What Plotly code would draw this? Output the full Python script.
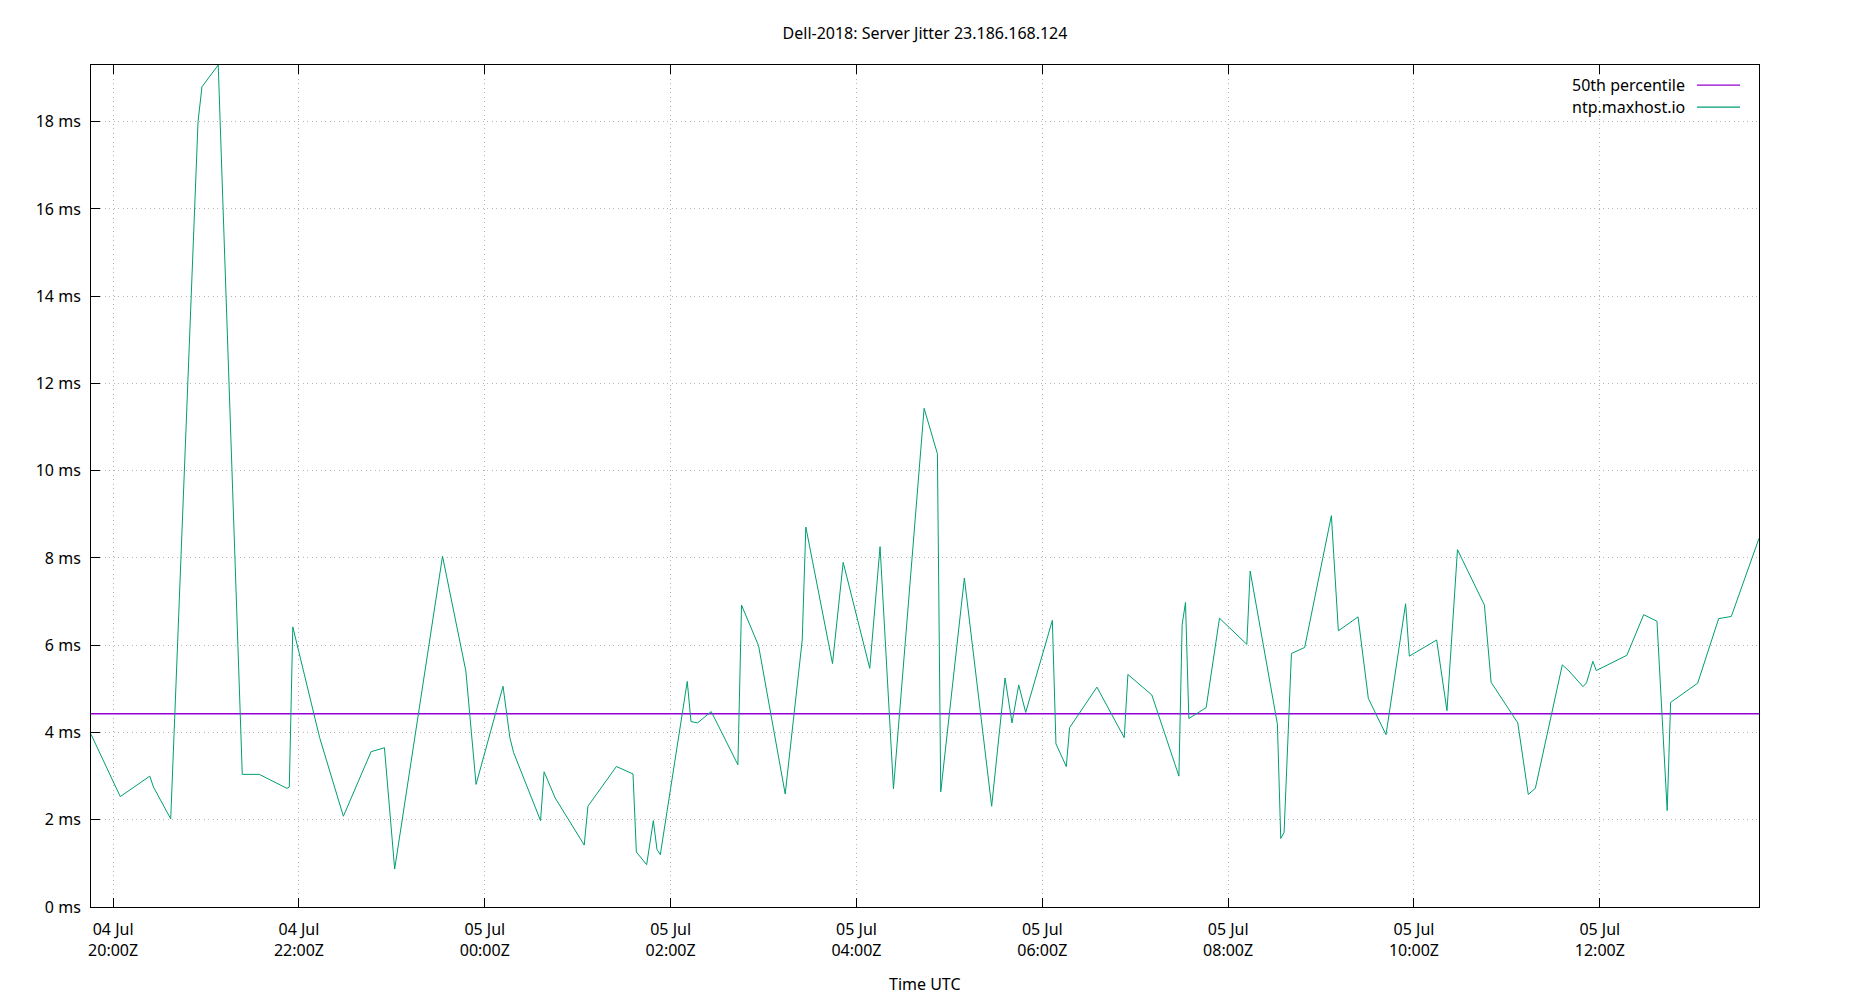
import plotly.graph_objects as go

# jitter samples for ntp.maxhost.io (UTC)
times = [
    "2018-07-04 19:45:43", "2018-07-04 20:00:30", "2018-07-04 20:04:37", "2018-07-04 20:23:42",
    "2018-07-04 20:26:02", "2018-07-04 20:37:12", "2018-07-04 20:54:50", "2018-07-04 20:57:22",
    "2018-07-04 21:07:52", "2018-07-04 21:23:24", "2018-07-04 21:34:23", "2018-07-04 21:52:12",
    "2018-07-04 21:53:46", "2018-07-04 21:56:02", "2018-07-04 22:13:23", "2018-07-04 22:28:41",
    "2018-07-04 22:46:34", "2018-07-04 22:55:12", "2018-07-04 23:01:48", "2018-07-04 23:32:42",
    "2018-07-04 23:47:46", "2018-07-04 23:54:22", "2018-07-05 00:11:46", "2018-07-05 00:16:12",
    "2018-07-05 00:18:36", "2018-07-05 00:36:00", "2018-07-05 00:38:17", "2018-07-05 00:45:25",
    "2018-07-05 01:04:12", "2018-07-05 01:06:36", "2018-07-05 01:24:58", "2018-07-05 01:35:42",
    "2018-07-05 01:37:52", "2018-07-05 01:44:31", "2018-07-05 01:48:50", "2018-07-05 01:51:11",
    "2018-07-05 01:53:20", "2018-07-05 02:10:44", "2018-07-05 02:13:08", "2018-07-05 02:17:24",
    "2018-07-05 02:26:13", "2018-07-05 02:43:26", "2018-07-05 02:45:47", "2018-07-05 02:56:46",
    "2018-07-05 03:13:59", "2018-07-05 03:24:58", "2018-07-05 03:27:18", "2018-07-05 03:44:31",
    "2018-07-05 03:51:25", "2018-07-05 04:08:35", "2018-07-05 04:15:14", "2018-07-05 04:23:53",
    "2018-07-05 04:43:41", "2018-07-05 04:52:16", "2018-07-05 04:54:25", "2018-07-05 05:09:40",
    "2018-07-05 05:27:18", "2018-07-05 05:35:56", "2018-07-05 05:40:26", "2018-07-05 05:44:46",
    "2018-07-05 05:49:16", "2018-07-05 06:06:29", "2018-07-05 06:08:49", "2018-07-05 06:15:29",
    "2018-07-05 06:17:38", "2018-07-05 06:35:17", "2018-07-05 06:52:55", "2018-07-05 06:55:16",
    "2018-07-05 07:10:44", "2018-07-05 07:28:12", "2018-07-05 07:30:18", "2018-07-05 07:32:28",
    "2018-07-05 07:34:37", "2018-07-05 07:45:47", "2018-07-05 07:54:25", "2018-07-05 08:12:04",
    "2018-07-05 08:14:13", "2018-07-05 08:31:48", "2018-07-05 08:33:58", "2018-07-05 08:36:07",
    "2018-07-05 08:40:52", "2018-07-05 08:49:26", "2018-07-05 09:06:40", "2018-07-05 09:11:10",
    "2018-07-05 09:23:53", "2018-07-05 09:30:32", "2018-07-05 09:41:56", "2018-07-05 09:54:36",
    "2018-07-05 09:57:00", "2018-07-05 10:14:38", "2018-07-05 10:21:18", "2018-07-05 10:28:05",
    "2018-07-05 10:45:29", "2018-07-05 10:49:48", "2018-07-05 11:07:01", "2018-07-05 11:13:48",
    "2018-07-05 11:18:22", "2018-07-05 11:35:46", "2018-07-05 11:40:05", "2018-07-05 11:49:08",
    "2018-07-05 11:51:25", "2018-07-05 11:55:30", "2018-07-05 11:57:43", "2018-07-05 12:17:28",
    "2018-07-05 12:28:19", "2018-07-05 12:36:54", "2018-07-05 12:43:30", "2018-07-05 12:45:43",
    "2018-07-05 13:03:11", "2018-07-05 13:16:44", "2018-07-05 13:24:54", "2018-07-05 13:42:47",
]
jitter_ms = [
    3.96, 2.85, 2.53, 3.00, 2.75, 2.02, 18.0, 18.8,
    19.3, 3.04, 3.04, 2.72, 2.75, 6.42, 3.88, 2.08,
    3.56, 3.65, 0.87, 8.04, 5.41, 2.81, 5.06, 3.88,
    3.54, 1.98, 3.10, 2.50, 1.42, 2.31, 3.22, 3.05,
    1.26, 0.97, 1.98, 1.32, 1.20, 5.17, 4.25, 4.22,
    4.48, 3.26, 6.92, 5.99, 2.59, 6.12, 8.71, 5.58,
    7.90, 5.47, 8.26, 2.71, 11.43, 10.39, 2.64, 7.54,
    2.31, 5.25, 4.22, 5.09, 4.46, 6.57, 3.74, 3.22,
    4.11, 5.04, 3.88, 5.33, 4.86, 3.00, 6.47, 6.98,
    4.32, 4.57, 6.62, 6.02, 7.70, 4.19, 1.57, 1.71,
    5.81, 5.95, 8.97, 6.33, 6.65, 4.78, 3.95, 6.95,
    5.75, 6.12, 4.50, 8.19, 6.92, 5.15, 4.22, 2.58,
    2.72, 5.55, 5.41, 5.05, 5.14, 5.63, 5.42, 5.77,
    6.70, 6.55, 2.21, 4.69, 5.13, 6.61, 6.66, 8.45,
]
p50_ms = 4.43

tick_times = [
    "2018-07-04 20:00", "2018-07-04 22:00", "2018-07-05 00:00", "2018-07-05 02:00",
    "2018-07-05 04:00", "2018-07-05 06:00", "2018-07-05 08:00", "2018-07-05 10:00",
    "2018-07-05 12:00",
]
tick_labels = [
    "04 Jul<br>20:00Z", "04 Jul<br>22:00Z", "05 Jul<br>00:00Z", "05 Jul<br>02:00Z",
    "05 Jul<br>04:00Z", "05 Jul<br>06:00Z", "05 Jul<br>08:00Z", "05 Jul<br>10:00Z",
    "05 Jul<br>12:00Z",
]

PURPLE = "#9400d3"
GREEN = "#009e73"
FONT = "Noto Sans"

fig = go.Figure()

fig.add_trace(go.Scatter(
    x=[times[0], times[-1]], y=[p50_ms, p50_ms],
    mode="lines", name="50th percentile",
    line=dict(color=PURPLE, width=1.3),
    showlegend=False,
))
fig.add_trace(go.Scatter(
    x=times, y=jitter_ms,
    mode="lines", name="ntp.maxhost.io",
    line=dict(color=GREEN, width=1),
    showlegend=False,
))

# gnuplot style key: text on the left, line sample on the right
legend_rows = [("50th percentile", PURPLE, 0.976), ("ntp.maxhost.io", GREEN, 0.950)]
for label, color, yy in legend_rows:
    fig.add_annotation(
        xref="paper", yref="paper", x=0.957, y=yy,
        text=label, showarrow=False, xanchor="right", yanchor="middle",
        font=dict(family=FONT, size=16, color="black"),
    )
    fig.add_shape(
        type="line", xref="paper", yref="paper",
        x0=0.9628, x1=0.9886, y0=yy, y1=yy,
        line=dict(color=color, width=1.3),
    )

fig.add_annotation(
    xref="paper", yref="paper", x=0.5, y=-0.0914,
    text="Time UTC", showarrow=False, xanchor="center", yanchor="middle",
    font=dict(family=FONT, size=16, color="black"),
)

fig.update_layout(
    width=1850, height=1000,
    margin=dict(l=83, r=99, t=57, b=101),
    paper_bgcolor="white", plot_bgcolor="white",
    font=dict(family=FONT, size=16, color="black"),
    title=dict(
        text="Dell-2018: Server Jitter 23.186.168.124",
        x=0.5, xanchor="center", xref="paper",
        y=0.975, yanchor="middle", yref="container",
        font=dict(family=FONT, size=16, color="black"),
    ),
)

GRID = dict(showgrid=True, gridcolor="#b4b4b4", gridwidth=1, griddash="1px,3.5px")

fig.update_xaxes(
    type="date",
    range=[times[0], times[-1]],
    tickvals=tick_times, ticktext=tick_labels,
    ticks="inside", ticklen=9, tickcolor="black",
    showline=True, linecolor="black", linewidth=1, mirror="ticks",
    ticklabelstandoff=8,
    zeroline=False,
    **GRID,
)
fig.update_yaxes(
    range=[0, 19.3],
    tick0=0, dtick=2, ticksuffix=" ms",
    ticks="inside", ticklen=9, tickcolor="black",
    showline=True, linecolor="black", linewidth=1, mirror=True,
    ticklabelstandoff=6,
    zeroline=False,
    **GRID,
)

fig.write_html("out.html")
